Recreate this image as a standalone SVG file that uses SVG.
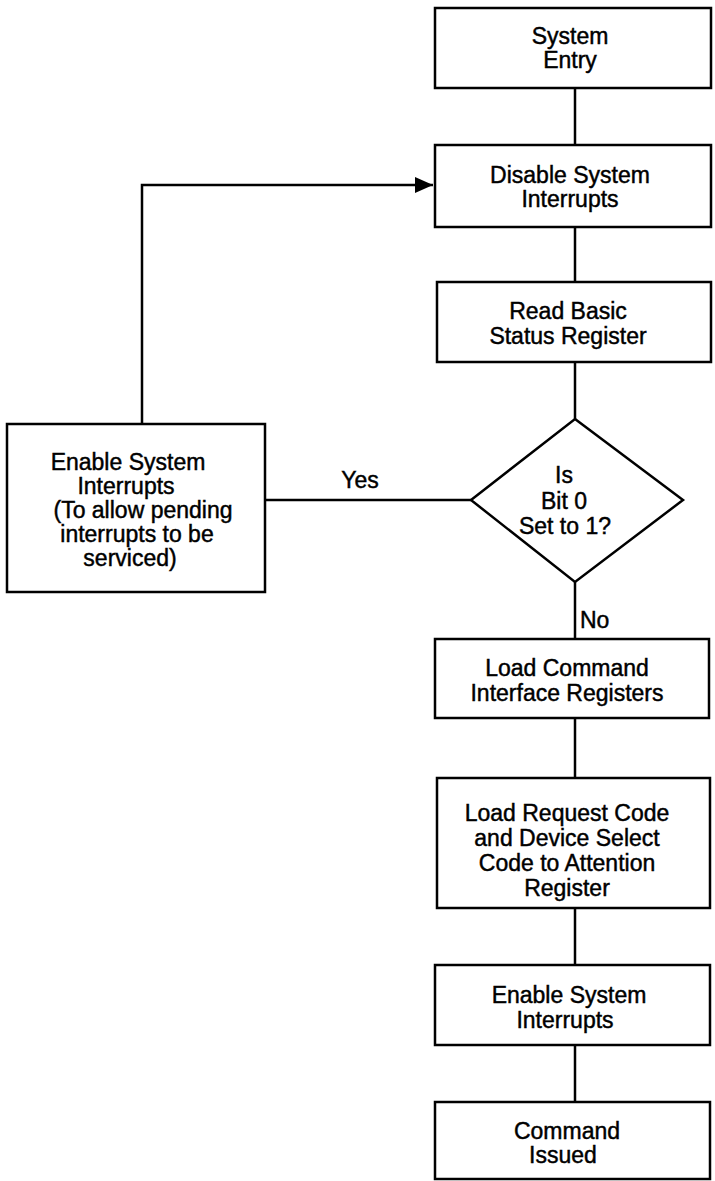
<svg xmlns="http://www.w3.org/2000/svg" width="715" height="1181" viewBox="0 0 715 1181">
<style>
.box{fill:#fff;stroke:#000;stroke-width:2.5}
.ln{fill:none;stroke:#000;stroke-width:2.5}
text{font-family:"Liberation Sans",Arial,sans-serif;font-size:23px;fill:#000;stroke:#000;stroke-width:0.45;text-anchor:middle}
.lbl{text-anchor:start}
</style>
<defs>
<marker id="ah" markerWidth="18" markerHeight="16" refX="18" refY="8" orient="auto" markerUnits="userSpaceOnUse">
<path d="M0,0 L18,8 L0,16 Z" fill="#000"/>
</marker>
</defs>
<rect width="715" height="1181" fill="#fff"/>
<g id="connectors">
<line class="ln" x1="575" y1="88" x2="575" y2="145"/>
<line class="ln" x1="575" y1="227" x2="575" y2="282"/>
<line class="ln" x1="575" y1="362" x2="575" y2="419"/>
<line class="ln" x1="575" y1="582" x2="575" y2="639"/>
<line class="ln" x1="575" y1="718" x2="575" y2="778"/>
<line class="ln" x1="575" y1="908" x2="575" y2="965"/>
<line class="ln" x1="575" y1="1045" x2="575" y2="1102"/>
<line class="ln" x1="265" y1="500" x2="471" y2="500"/>
<polyline class="ln" points="142,424 142,185 433,185" marker-end="url(#ah)"/>
<text x="360" y="488">Yes</text>
<text class="lbl" x="580" y="628">No</text>
</g>
<g id="system-entry">
<rect class="box" x="435" y="8" width="276" height="80"/>
<text x="570" y="44">System</text>
<text x="570" y="68">Entry</text>
</g>
<g id="disable-interrupts">
<rect class="box" x="435" y="145" width="276" height="82"/>
<text x="570" y="183">Disable System</text>
<text x="570" y="207">Interrupts</text>
</g>
<g id="read-status">
<rect class="box" x="437" y="282" width="274" height="80"/>
<text x="568" y="319">Read Basic</text>
<text x="568" y="344">Status Register</text>
</g>
<g id="decision">
<polygon class="box" points="575,419 683,500 575,582 471,500"/>
<text x="564" y="483">Is</text>
<text x="564" y="509">Bit 0</text>
<text x="565" y="534">Set to 1?</text>
</g>
<g id="enable-pending">
<rect class="box" x="7" y="424" width="258" height="168"/>
<text x="128" y="470">Enable System</text>
<text x="126" y="494">Interrupts</text>
<text x="143" y="518">(To allow pending</text>
<text x="137" y="542">interrupts to be</text>
<text x="130" y="566">serviced)</text>
</g>
<g id="load-command">
<rect class="box" x="435" y="639" width="274" height="79"/>
<text x="567" y="676">Load Command</text>
<text x="567" y="701">Interface Registers</text>
</g>
<g id="load-request">
<rect class="box" x="437" y="778" width="273" height="130"/>
<text x="567" y="821">Load Request Code</text>
<text x="567" y="846">and Device Select</text>
<text x="567" y="871">Code to Attention</text>
<text x="567" y="896">Register</text>
</g>
<g id="enable-interrupts">
<rect class="box" x="435" y="965" width="275" height="80"/>
<text x="569" y="1003">Enable System</text>
<text x="565" y="1028">Interrupts</text>
</g>
<g id="command-issued">
<rect class="box" x="435" y="1102" width="275" height="77"/>
<text x="567" y="1139">Command</text>
<text x="563" y="1163">Issued</text>
</g>
</svg>
